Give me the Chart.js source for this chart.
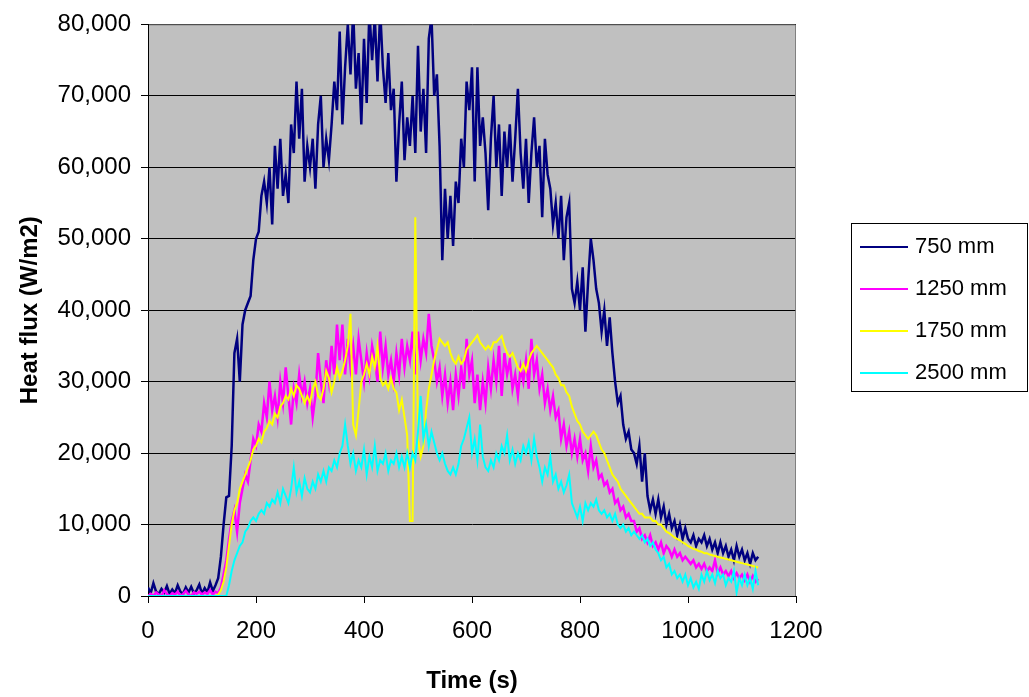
<!DOCTYPE html>
<html>
<head>
<meta charset="utf-8">
<script src="https://cdn.jsdelivr.net/npm/chart.js@4.4.1/dist/chart.umd.min.js"></script>
<style>
  html, body { margin: 0; padding: 0; background: #fff; }
  #wrap { width: 1029px; height: 697px; }
</style>
</head>
<body>
<div id="wrap"><canvas id="chart" width="1029" height="697"></canvas></div>
<script>
// time (s), one reading every 5 s
const times = [
  0, 5, 10, 15, 20, 25, 30, 35, 40, 45, 50, 55, 60, 65, 70, 75, 80, 85, 90, 95,
  100, 105, 110, 115, 120, 125, 130, 135, 140, 145, 150, 155, 160, 165, 170, 175, 180, 185, 190, 195,
  200, 205, 210, 215, 220, 225, 230, 235, 240, 245, 250, 255, 260, 265, 270, 275, 280, 285, 290, 295,
  300, 305, 310, 315, 320, 325, 330, 335, 340, 345, 350, 355, 360, 365, 370, 375, 380, 385, 390, 395,
  400, 405, 410, 415, 420, 425, 430, 435, 440, 445, 450, 455, 460, 465, 470, 475, 480, 485, 490, 495,
  500, 505, 510, 515, 520, 525, 530, 535, 540, 545, 550, 555, 560, 565, 570, 575, 580, 585, 590, 595,
  600, 605, 610, 615, 620, 625, 630, 635, 640, 645, 650, 655, 660, 665, 670, 675, 680, 685, 690, 695,
  700, 705, 710, 715, 720, 725, 730, 735, 740, 745, 750, 755, 760, 765, 770, 775, 780, 785, 790, 795,
  800, 805, 810, 815, 820, 825, 830, 835, 840, 845, 850, 855, 860, 865, 870, 875, 880, 885, 890, 895,
  900, 905, 910, 915, 920, 925, 930, 935, 940, 945, 950, 955, 960, 965, 970, 975, 980, 985, 990, 995,
  1000, 1005, 1010, 1015, 1020, 1025, 1030, 1035, 1040, 1045, 1050, 1055, 1060, 1065, 1070, 1075, 1080, 1085, 1090, 1095,
  1100, 1105, 1110, 1115, 1120, 1125, 1130
];

// heat flux, kW/m2 (axis shows W/m2)
const kw750 = [
  1.2, 0.4, 1.8, 0.6, 0.3, 1.0, 0.5, 1.4, 0.3, 0.9, 0.4, 1.5, 0.6, 0.3, 1.2, 0.5, 1.3, 0.4, 0.8, 1.6,
  0.3, 1.1, 0.5, 1.9, 0.7, 1.5, 2.5, 5.5, 10, 13.8, 14, 21, 34, 36, 30, 38, 40, 41, 42, 47,
  50, 51, 56, 58, 55, 60, 52, 63, 57, 64, 56, 59, 55, 66, 62, 72, 64, 71, 58, 63,
  60, 64, 57, 66, 70, 60, 64, 61, 66, 72, 68, 79, 66, 74, 80, 73, 82, 71, 76, 66,
  78, 69, 82, 75, 81, 72, 82, 74, 69, 76, 68, 71, 58, 66, 72, 61, 67, 63, 70, 62,
  77, 65, 71, 62, 78, 81, 70, 73, 63, 47, 57, 50, 56, 49, 58, 55, 64, 60, 72, 68,
  74, 58, 74, 63, 67, 62, 54, 64, 70, 60, 66, 56, 65, 60, 66, 58, 64, 71, 62, 57,
  64, 55, 62, 67, 60, 63, 53, 64, 59, 57, 52, 55, 50, 56, 47, 53, 55, 43, 41, 44,
  40, 46, 37, 44, 50, 47, 43, 41, 37, 40, 35, 39, 34, 30, 27, 28, 24, 22, 23, 20.5,
  20, 18.5, 21, 16, 20, 14, 12, 13.5, 11.5, 13.5, 11, 12.5, 10, 11.5, 9.5, 10.5, 8.5, 10, 8, 9.5,
  8, 7.5, 8.5, 7, 8, 7.5, 8.5, 7, 8, 6.5, 7.5, 6, 7.5, 6, 7, 5.5, 6.5, 5, 7, 5.5,
  6.5, 5, 6, 4.5, 6, 5, 5.5
];
const kw1250 = [
  0, 0.3, 0, 0.5, 0.2, 0, 0.8, 0.3, 0, 0.4, 0.2, 0.6, 0, 0.3, 0.7, 0.2, 0, 0.5, 0.3, 0.6,
  0.2, 0.5, 0.3, 0.8, 0.2, 0.6, 0.4, 1.2, 3, 5, 8, 10.5, 12, 9, 13, 15, 17, 16, 19, 22,
  21, 24, 23, 27, 25, 30, 26, 28, 25, 30, 27, 32, 28, 24, 29, 27, 31, 28, 30, 27,
  29, 25, 28, 34, 30, 27, 33, 30, 35, 31, 38, 33, 38, 31, 36, 32, 35, 31, 36, 33,
  30, 34, 31, 35, 33, 30, 37, 32, 35, 31, 33, 30, 34, 31, 36, 32, 35, 33, 37, 31,
  37, 33, 36, 34, 39.5, 35, 33, 30, 32, 28, 31, 27, 30, 26, 31, 28, 32, 29, 36, 31,
  33, 27, 31, 26, 30, 27, 32, 29, 33, 30, 35, 28, 34, 31, 33, 29, 31, 28, 32, 30,
  33, 29, 36, 31, 33, 29, 31, 27, 29, 26, 28, 25, 26, 22, 24, 21, 23, 20, 22, 19.5,
  22, 19, 20, 17.5, 21, 18, 19, 16.5, 17, 15.5, 16, 14.5, 15, 13, 13.5, 12, 12.5, 11, 11.5, 10.5,
  10.5, 9, 9.5, 8, 8.5, 7.5, 8.5, 7, 7.5, 6.5, 7.5, 6, 7, 6.5, 5.5, 6.5, 5.5, 6, 5, 5.5,
  5, 4.5, 5, 4, 4.5, 3.8, 4.5, 3.5, 4, 3.5, 5, 3.2, 4, 3, 3.5, 2.8, 3.5, 2.5, 3.2, 2.5,
  3, 2.2, 3, 2, 2.8, 2, 2.4
];
const kw1750 = [
  0, 0, 0, 0, 0, 0, 0, 0, 0, 0, 0, 0, 0, 0, 0, 0, 0, 0, 0, 0,
  0, 0, 0, 0, 0, 0, 0.2, 0.8, 2, 4, 7, 10, 12, 13, 15, 16, 17, 18, 19, 20.5,
  21, 22, 21.5, 23, 23.5, 24.5, 24, 25.5, 25, 26.5, 27, 28, 27.5, 29, 28, 29.5, 29, 28, 27, 28,
  27, 29, 30, 28, 27.5, 29, 31.5, 30.5, 28.5, 30, 32, 30.5, 31.5, 33, 35, 39.5, 24, 22.5, 26, 30,
  31, 32.5, 31, 33.5, 32, 35, 30.5, 29.5, 30, 29, 30.5, 29, 28.5, 26, 27.5, 25, 22.5, 10.5, 10.5, 53,
  22, 19.5, 21, 26, 29, 31, 33, 34.5, 36, 35.5, 35, 35.5, 34, 33, 32.5, 33.5, 32.5, 33, 34.5, 35,
  35.5, 36, 36.5, 35.5, 35, 34.5, 35, 34.5, 35.5, 35.5, 36, 36.4, 35, 34, 33.5, 34, 33, 32, 31.5, 32.5,
  31.5, 33, 34, 34.5, 35, 34.5, 34, 33.5, 33, 32.5, 32, 31, 30.5, 29.5, 29.5, 28.5, 28, 26.5, 25.5, 24.5,
  24, 23, 22.5, 22, 22.5, 23, 22.5, 21.5, 20.5, 20, 19, 18, 17, 16.5, 16, 15, 14.5, 14, 13.5, 13,
  12.5, 12, 11.5, 11.5, 11, 11, 11, 10.5, 10.5, 10, 10, 9.5, 9, 8.8, 8.5, 8.2, 8, 7.8, 7.5, 7.3,
  7, 6.8, 6.6, 6.5, 6.3, 6.2, 6, 6, 5.8, 5.7, 5.6, 5.5, 5.4, 5.3, 5.2, 5.1, 5, 4.9, 4.8, 4.7,
  4.6, 4.5, 4.4, 4.3, 4.2, 4.1, 4
];
const kw2500 = [
  0, 0, 0, 0, 0, 0, 0, 0, 0, 0, 0, 0, 0, 0, 0, 0, 0, 0, 0, 0,
  0, 0, 0, 0, 0, 0, 0, 0, 0, 0, 1.5, 3.5, 5, 6, 7, 7.5, 9, 9.5, 10.5, 11,
  10.5, 11.5, 12, 11.5, 13, 12.5, 13.5, 13, 14.5, 13, 15, 14, 13, 15, 18, 14.5, 16, 14, 16.5, 15,
  14.5, 16, 15, 17, 16, 17.5, 16, 18, 17.5, 19, 18, 20, 21, 24, 21, 18.5, 20, 17.5, 19, 18,
  20.5, 17, 19.5, 18, 21, 17.5, 19, 18.5, 20, 17.5, 19, 18.5, 20, 18, 19.5, 18, 20, 18, 20, 19,
  23, 28, 22, 24, 21, 23, 21.5, 20, 19, 20, 18.5, 17.5, 17, 18, 17, 18.5, 21, 22, 23.5, 25,
  20, 22, 19, 24, 19.5, 18, 17.5, 19, 18, 20, 19, 21, 20, 22.5, 19, 20.5, 18.5, 20, 19, 21,
  20, 21.5, 19, 22, 19.5, 18, 16, 18, 17, 19.5, 16, 17, 15, 16, 14.5, 15.5, 17, 13, 12, 11,
  12.5, 10.5, 13, 12, 13, 12.5, 13.5, 12, 11.5, 12, 11, 11.5, 10.5, 11.5, 10, 9.5, 10, 9, 9.5, 8.5,
  9, 8.5, 8, 8.5, 7.5, 8, 7, 7.5, 6.5, 6, 5, 5.5, 4, 4.5, 3, 3.5, 2.5, 3, 2, 3,
  1.5, 2.5, 1.2, 2, 1, 3, 2, 3.5, 2.2, 3, 1.8, 3.5, 2.5, 3, 1.5, 2.5, 2, 3.5, 0.5, 2.5,
  1.5, 3, 1.5, 2.5, 1, 3.5, 1.5
];

const seriesNames = ["750 mm", "1250 mm", "1750 mm", "2500 mm"];
const seriesColors = ["#000080", "#ff00ff", "#ffff00", "#00ffff"];
const seriesValues = [kw750, kw1250, kw1750, kw2500];
const seriesWidths = [2.5, 2.5, 2, 2];

const FONT = "'Liberation Sans', Arial, sans-serif";
const pts = vals => times.map((t, i) => ({ x: t, y: vals[i] }));

// grey plot background + grey top/right frame
const plotFrame = {
  id: "plotFrame",
  beforeDraw(chart) {
    const { ctx, chartArea: a } = chart;
    ctx.save();
    ctx.fillStyle = "#c0c0c0";
    ctx.fillRect(a.left, a.top, a.right - a.left, a.bottom - a.top);
    ctx.restore();
  },
  beforeDatasetsDraw(chart) {
    const { ctx, chartArea: a } = chart;
    ctx.save();
    ctx.strokeStyle = "#808080";
    ctx.lineWidth = 1;
    ctx.beginPath();
    ctx.moveTo(a.left + 1, a.top + 0.5);
    ctx.lineTo(a.right - 0.5, a.top + 0.5);
    ctx.lineTo(a.right - 0.5, a.bottom);
    ctx.stroke();
    ctx.restore();
  }
};

// boxed legend on the right
const boxLegend = {
  id: "boxLegend",
  afterDraw(chart) {
    const ctx = chart.ctx;
    ctx.save();
    ctx.strokeStyle = "#000";
    ctx.lineWidth = 1;
    ctx.strokeRect(851.5, 223.5, 176, 168);
    ctx.font = "22px " + FONT;
    ctx.textBaseline = "middle";
    ctx.fillStyle = "#000";
    seriesNames.forEach((name, i) => {
      const y = 247 + i * 42;
      ctx.strokeStyle = seriesColors[i];
      ctx.lineWidth = 2;
      ctx.beginPath();
      ctx.moveTo(860, y);
      ctx.lineTo(908, y);
      ctx.stroke();
      ctx.fillText(name, 915, y);
    });
    ctx.restore();
  }
};

new Chart(document.getElementById("chart"), {
  type: "line",
  data: {
    datasets: seriesValues.map((vals, i) => ({
      label: seriesNames[i],
      data: pts(vals),
      borderColor: seriesColors[i],
      backgroundColor: seriesColors[i],
      borderWidth: seriesWidths[i],
      pointRadius: 0,
      tension: 0,
      order: 4 - i
    }))
  },
  options: {
    responsive: false,
    animation: false,
    layout: { padding: { top: 22, right: 233, bottom: 0, left: 0 } },
    plugins: { legend: { display: false }, tooltip: { enabled: false } },
    scales: {
      x: {
        type: "linear", min: 0, max: 1200,
        ticks: { stepSize: 200, color: "#000", font: { family: FONT, size: 24 }, padding: 14, maxRotation: 0,
          callback: v => String(v) },
        grid: { drawOnChartArea: false, drawTicks: true, tickLength: 7, color: "#000" },
        border: { color: "#000" },
        title: { display: true, text: "Time (s)", color: "#000", font: { family: FONT, size: 24, weight: "bold" }, padding: { top: 0, bottom: 1 } },
        afterFit(s) { s.height = 101; }
      },
      y: {
        min: 0, max: 80,
        ticks: { stepSize: 10, color: "#000", font: { family: FONT, size: 24 }, padding: 10,
          callback: v => (v * 1000).toLocaleString("en-US") },
        grid: { color: "#000", tickLength: 7 },
        border: { color: "#000" },
        title: { display: true, text: "Heat flux (W/m2)", color: "#000", font: { family: FONT, size: 24, weight: "bold" }, padding: { top: 16, bottom: 0 } },
        afterFit(s) { s.width = 148; }
      }
    }
  },
  plugins: [plotFrame, boxLegend]
});
</script>
</body>
</html>
